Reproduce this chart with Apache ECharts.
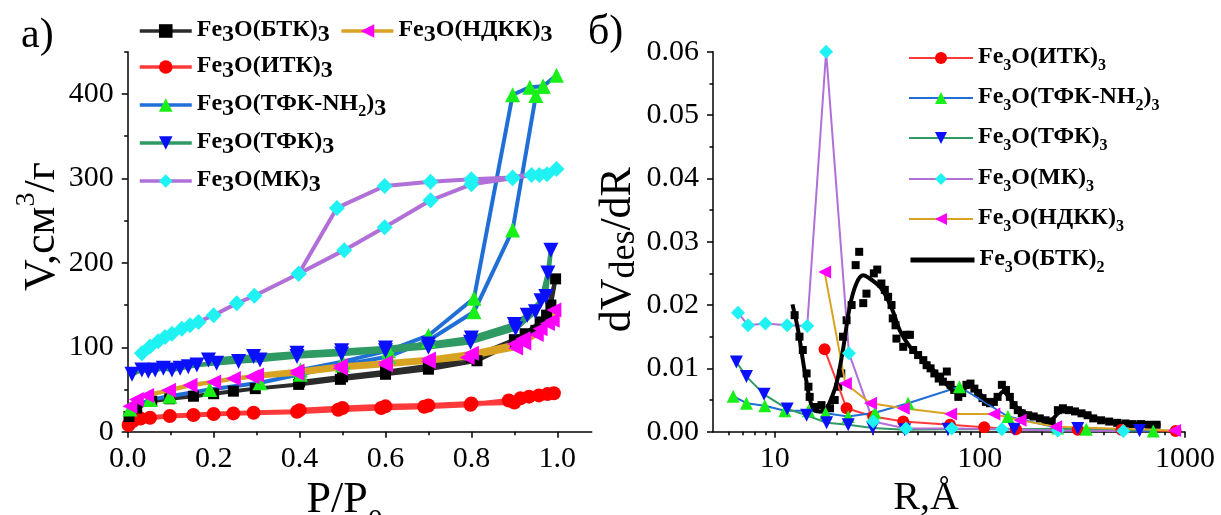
<!DOCTYPE html>
<html><head><meta charset="utf-8">
<script src="https://cdn.jsdelivr.net/npm/echarts@6/dist/echarts.min.js"></script>
<style>html,body{margin:0;padding:0;background:#fff}#c{width:1221px;height:515px}</style>
</head><body><div id="c"></div><script>
// ---------- Panel a): N2 isotherms, [P/P0, V] ----------
const btkAds = [[0.003,18],[0.021,28],[0.056,36],[0.098,39],[0.153,42],[0.2,45],[0.246,48],[0.297,51],[0.398,56],[0.495,62],[0.6,68],[0.7,74],[0.813,84],[0.903,106],[0.95,120],[0.975,138],[0.996,181]];
const btkDes = [[0.996,181],[0.985,150],[0.96,130],[0.925,116],[0.9,109],[0.8,88],[0.7,78],[0.6,71],[0.5,65],[0.4,59]];
const itkAds = [[0.002,8],[0.013,13],[0.03,15.5],[0.052,16.5],[0.098,18.6],[0.153,19.8],[0.2,21],[0.246,21.7],[0.293,22.5],[0.394,23.7],[0.49,26],[0.59,28],[0.69,29.5],[0.798,32],[0.887,37],[0.914,39.5],[0.934,41.5],[0.957,43],[0.977,44.5],[0.992,45.5]];
const itkDes = [[0.992,45.5],[0.9,34.5],[0.8,33.5],[0.7,31],[0.6,30],[0.5,28],[0.4,25.5]];
const nh2Ads = [[0.005,27],[0.052,38],[0.098,42],[0.191,50],[0.308,58],[0.402,68],[0.5,79],[0.607,89],[0.7,108],[0.806,142],[0.896,239],[0.95,398],[0.967,409],[0.998,422]];
const nh2Des = [[0.998,422],[0.967,409],[0.936,408],[0.896,399],[0.806,158],[0.7,114],[0.607,96],[0.5,83],[0.402,73]];
const tfkAds = [[0.01,68],[0.033,73],[0.048,71.7],[0.064,73],[0.083,75],[0.103,73],[0.122,75],[0.141,77],[0.161,79],[0.207,81],[0.258,83],[0.308,85],[0.394,89],[0.498,92],[0.6,96],[0.7,100],[0.798,106],[0.903,122],[0.949,142],[0.973,160],[0.985,215]];
const tfkDes = [[0.985,215],[0.978,188],[0.962,155],[0.93,138],[0.9,127],[0.8,111],[0.7,104],[0.6,99],[0.498,96],[0.394,93],[0.293,89],[0.188,85]];
const ndkkAds = [[0.005,30],[0.02,38],[0.044,43],[0.095,49],[0.145,55],[0.2,59],[0.246,63],[0.289,65],[0.394,69],[0.495,75],[0.6,79],[0.7,83],[0.79,88],[0.903,99],[0.922,105],[0.951,115],[0.977,128],[0.992,144]];
const ndkkDes = [[0.992,144],[0.988,132],[0.96,122],[0.92,110],[0.9,104],[0.8,93],[0.7,86],[0.6,82],[0.495,78],[0.394,72],[0.3,67]];
const mkAds = [[0.033,93],[0.052,101],[0.071,107],[0.087,112],[0.103,116],[0.126,122],[0.145,126],[0.165,130],[0.2,138],[0.254,152],[0.295,161],[0.398,187],[0.504,215],[0.598,242],[0.705,274],[0.8,293],[0.896,300],[0.94,304],[0.958,304],[0.976,305],[0.998,311]];
const mkDes = [[0.998,311],[0.896,301],[0.8,299],[0.705,296],[0.598,291],[0.487,265],[0.398,187]];

// ---------- Panel б): pore size distributions, [R (Å), dVdes/dR] ----------
const itkPsd = [[17.5,0.013],[22.4,0.0037],[30.2,0.0024],[42.3,0.0016],[71.5,0.0011],[105,0.0007],[150,0.0004],[300,0.0003],[490,0.0003],[900,0.0001]];
const nh2Psd = [[6.27,0.0056],[7.28,0.0045],[8.94,0.0041],[11.2,0.0033],[14.6,0.0033],[17.7,0.0029],[22.8,0.0024],[30.8,0.003],[44.7,0.0045],[79.5,0.0071],[137,0.0024],[240,0.0006],[330,0.0004],[700,0.0001]];
const tfkPsd = [[6.5,0.011],[7.28,0.0087],[8.87,0.0059],[11.5,0.0036],[14.3,0.0026],[17.9,0.0014],[22.8,0.0011],[30,0.0006],[43,0.0003],[70,0.0004],[147,0.0004],[300,0.0005],[600,0.0002]];
const mkPsd = [[6.62,0.0188],[7.41,0.0168],[9.0,0.0171],[11.5,0.0168],[14.4,0.0167],[17.8,0.06],[23.0,0.0124],[30.2,0.0016],[43.6,0.0005],[73,0.0005],[128,0.0004],[240,0.0002],[500,0.0001]];
const ndkkPsd = [[17.5,0.0252],[22.1,0.0076],[29.3,0.0045],[42.3,0.0037],[72,0.0028],[117,0.0028],[157,0.0018],[234,0.0008],[890,0.0002]];
const btkPsdPoints = [[12.5,0.0184],[13.2,0.015],[13.7,0.0129],[14.3,0.0092],[14.6,0.0071],[14.8,0.0055],[15.7,0.0039],[16.9,0.0042],[18.6,0.0037],[19.6,0.005],[20.4,0.0071],[21.1,0.0092],[21.5,0.015],[22.4,0.0176],[23.7,0.02],[24.8,0.0263],[25.8,0.0284],[27,0.0203],[28,0.0218],[30.4,0.025],[31.6,0.0256],[33.1,0.0234],[34.4,0.0224],[35.7,0.0213],[37.1,0.02],[37.6,0.0179],[38.8,0.0168],[39.2,0.0147],[42.3,0.0134],[44,0.0153],[45.6,0.0153],[47.3,0.0129],[50,0.0121],[53,0.0113],[55,0.0105],[57.5,0.01],[60,0.0092],[63,0.0084],[64,0.0087],[66,0.0079],[69,0.0095],[72,0.0074],[75,0.0066],[78.5,0.0055],[82,0.0061],[86,0.0074],[90,0.0076],[94,0.0068],[98,0.0061],[103,0.0053],[107,0.0047],[112,0.0045],[117,0.0047],[122,0.0055],[128,0.0074],[134,0.0066],[140,0.0055],[146,0.0042],[153,0.0034],[160,0.0029],[172,0.0026],[183,0.0024],[196,0.0021],[209,0.0018],[224,0.0016],[240,0.0034],[254,0.0037],[272,0.0034],[291,0.0032],[313,0.0029],[335,0.0026],[357,0.0021],[390,0.0018],[427,0.0016],[467,0.0014],[512,0.0013],[556,0.0012],[610,0.0012],[667,0.0011],[727,0.0011]];
const btkPsdFit = [[12.2,0.0201],[13,0.016],[14,0.0095],[15,0.0045],[15.8,0.0033],[16.6,0.0032],[17.9,0.0037],[19,0.0055],[20,0.0076],[21.5,0.0129],[23.2,0.0197],[25,0.0234],[27,0.0247],[29,0.0242],[32.5,0.0229],[35,0.0213],[37.8,0.0189],[40.7,0.016],[45.6,0.0134],[53,0.0113],[61.5,0.0092],[70,0.0072],[78,0.0061],[84,0.0068],[90,0.0072],[100,0.006],[112,0.0046],[122,0.0055],[130,0.0063],[140,0.0052],[153,0.0037],[183,0.0024],[219,0.0018],[250,0.0032],[300,0.0031],[372,0.0021],[489,0.0013],[600,0.0012],[760,0.001]];

// ---------- Axis ticks ----------
const aXTicks = [0, 0.2, 0.4, 0.6, 0.8, 1.0];
const aXMinor = [0.1, 0.3, 0.5, 0.7, 0.9];
const aYTicks = [0, 100, 200, 300, 400];
const aYMinor = [50, 150, 250, 350, 450];
const bXTicks = [10, 100, 1000];
const bXMinor = [6, 7, 8, 9, 20, 30, 40, 50, 60, 70, 80, 90, 200, 300, 400, 500, 600, 700, 800, 900];
const bYTicks = [0, 0.01, 0.02, 0.03, 0.04, 0.05, 0.06];
const bYMinor = [0.005, 0.015, 0.025, 0.035, 0.045, 0.055];

// ---------- Legend entries and labels ----------
const legendRowsA = [['a:БТК', 'a:НДКК'], ['a:ИТК'], ['a:ТФК-NH2'], ['a:ТФК'], ['a:МК']];
const legendRowsB = ['b:ИТК', 'b:ТФК-NH2', 'b:ТФК', 'b:МК', 'b:НДКК', 'b:БТК'];
const legendLabels = {
  'a:БТК': '{n|Fe}{d|3}{n|O(БТК)}{d|3}',
  'a:НДКК': '{n|Fe}{d|3}{n|O(НДКК)}{d|3}',
  'a:ИТК': '{n|Fe}{d|3}{n|O(ИТК)}{d|3}',
  'a:ТФК-NH2': '{n|Fe}{d|3}{n|O(ТФК-NH}{s|2}{n|)}{d|3}',
  'a:ТФК': '{n|Fe}{d|3}{n|O(ТФК)}{d|3}',
  'a:МК': '{n|Fe}{d|3}{n|O(МК)}{d|3}',
  'b:ИТК': '{n|Fe}{s|3}{n|O(ИТК)}{s|3}',
  'b:ТФК-NH2': '{n|Fe}{s|3}{n|O(ТФК-NH}{s|2}{n|)}{s|3}',
  'b:ТФК': '{n|Fe}{s|3}{n|O(ТФК)}{s|3}',
  'b:МК': '{n|Fe}{s|3}{n|O(МК)}{s|3}',
  'b:НДКК': '{n|Fe}{s|3}{n|O(НДКК)}{s|3}',
  'b:БТК': '{n|Fe}{s|3}{n|O(БТК)}{s|2}'
};

const FONT = 'Liberation Serif';
const BLACK = '#000';
const COL = {
  btk: ['#2b2b2b', '#000000'],
  itk: ['#ff3a3a', '#ff0000'],
  nh2: ['#1f6fd6', '#19f019'],
  tfk: ['#2f9a64', '#0a10ff'],
  mk:  ['#b070d8', '#1ff2f2'],
  ndkk:['#d8a322', '#ff00ff']
};

function mainAxis(type, gi, min, max, ticks, fmt, extra) {
  return Object.assign({
    type: type, gridIndex: gi, min: min, max: max,
    axisLine: {show: true, onZero: false, lineStyle: {color: BLACK, width: 1.5}},
    axisTick: {show: true, length: 6, lineStyle: {color: BLACK, width: 1.5}, customValues: ticks},
    axisLabel: {customValues: ticks, formatter: fmt, fontFamily: FONT, fontSize: 30, color: BLACK, margin: 12},
    splitLine: {show: false}, minorTick: {show: false}, minorSplitLine: {show: false}
  }, extra);
}
function minorAxis(type, gi, min, max, ticks, position) {
  return {
    type: type, gridIndex: gi, min: min, max: max, position: position, offset: 0,
    axisLine: {show: false},
    axisTick: {show: true, length: 3.5, lineStyle: {color: BLACK, width: 1.5}, customValues: ticks},
    axisLabel: {show: false}, splitLine: {show: false}
  };
}

const nameRich = {
  n: {fontFamily: FONT, fontSize: 44, color: BLACK, verticalAlign: 'top', lineHeight: 46},
  p: {fontFamily: FONT, fontSize: 28, color: BLACK, verticalAlign: 'top', lineHeight: 30},
  s: {fontFamily: FONT, fontSize: 30, color: BLACK, verticalAlign: 'top', lineHeight: 32, padding: [28, 0, 0, 0]},
  ds: {fontFamily: FONT, fontSize: 36, color: BLACK, verticalAlign: 'top', lineHeight: 38, padding: [10, 0, 0, 0]},
  r: {fontFamily: FONT, fontSize: 40, color: BLACK, verticalAlign: 'top', lineHeight: 42}
};

const xAxis = [
  mainAxis('value', 0, 0, 1.08, aXTicks, v => v.toFixed(1), {
    position: 'bottom', name: '{n|P/P}{s|0}', nameLocation: 'middle', nameGap: 37,
    nameTextStyle: {rich: nameRich, padding: [0, 30, 0, 0]}
  }),
  minorAxis('value', 0, 0, 1.08, aXMinor, 'bottom'),
  mainAxis('log', 1, 5, 1000, bXTicks, v => String(Math.round(v)), {
    position: 'bottom', logBase: 10, name: '{r|R,Å}', nameLocation: 'middle', nameGap: 35,
    nameTextStyle: {rich: nameRich, padding: [0, 46, 0, 0]}
  }),
  minorAxis('log', 1, 5, 1000, bXMinor, 'bottom')
];
const yAxis = [
  mainAxis('value', 0, 0, 450, aYTicks, v => String(v), {
    position: 'left', name: '{n|V,см}{p|3}{n|/г}', nameLocation: 'middle', nameGap: 62,
    nameTextStyle: {rich: Object.assign({}, nameRich, {n: Object.assign({}, nameRich.n, {padding: [8, 0, 0, 0]})}), padding: [0, 0, 0, 30]}
  }),
  minorAxis('value', 0, 0, 450, aYMinor, 'left'),
  mainAxis('value', 1, 0, 0.06, bYTicks, v => v.toFixed(2), {
    position: 'left', name: '{n|dV}{ds|des}{n|/dR}', nameLocation: 'middle', nameGap: 64,
    nameTextStyle: {rich: nameRich, padding: [0, 16, 0, 0]}
  }),
  minorAxis('value', 1, 0, 0.06, bYMinor, 'left')
];
yAxis[0].axisLabel.margin = 14;
yAxis[2].axisLabel.margin = 14;

function iso(name, ads, des, c, symbol, size, rotate, width) {
  return {
    name: name, type: 'line', xAxisIndex: 0, yAxisIndex: 0,
    data: ads.concat(des.slice(1)),
    symbol: symbol, symbolSize: size, symbolRotate: rotate || 0,
    lineStyle: {color: c[0], width: width || 4}, itemStyle: {color: c[1], opacity: 1},
    emphasis: {disabled: true}
  };
}
function psd(name, data, c, symbol, size, rotate) {
  return {
    name: name, type: 'line', xAxisIndex: 2, yAxisIndex: 2, data: data,
    symbol: symbol, symbolSize: size, symbolRotate: rotate || 0,
    lineStyle: {color: c[0], width: 2}, itemStyle: {color: c[1], opacity: 1},
    emphasis: {disabled: true}
  };
}

const series = [
  iso('a:ИТК', itkAds, itkDes, COL.itk, 'circle', 14, 0, 5),
  iso('a:БТК', btkAds, btkDes, COL.btk, 'rect', 11),
  iso('a:ТФК-NH2', nh2Ads, nh2Des, COL.nh2, 'triangle', 15),
  iso('a:ТФК', tfkAds, tfkDes, COL.tfk, 'triangle', 15, 180, 4.5),
  iso('a:НДКК', ndkkAds, ndkkDes, COL.ndkk, 'triangle', 15, 90, 4.5),
  iso('a:МК', mkAds, mkDes, COL.mk, 'diamond', 16),
  psd('b:ИТК', itkPsd, COL.itk, 'circle', 12),
  psd('b:ТФК-NH2', nh2Psd, COL.nh2, 'triangle', 13),
  psd('b:ТФК', tfkPsd, COL.tfk, 'triangle', 13, 180),
  psd('b:МК', mkPsd, COL.mk, 'diamond', 14),
  psd('b:НДКК', ndkkPsd, COL.ndkk, 'triangle', 13, 90),
  {name: 'b:БТК точки', type: 'scatter', xAxisIndex: 2, yAxisIndex: 2, data: btkPsdPoints,
   symbol: 'rect', symbolSize: 8, itemStyle: {color: BLACK, opacity: 1}, emphasis: {disabled: true}},
  {name: 'b:БТК', type: 'line', xAxisIndex: 2, yAxisIndex: 2, data: btkPsdFit, smooth: 0.35,
   symbol: 'none', lineStyle: {color: BLACK, width: 4}, itemStyle: {color: BLACK}, emphasis: {disabled: true}}
];

const legRichA = {
  n: {fontFamily: FONT, fontSize: 24, fontWeight: 'bold', color: BLACK, verticalAlign: 'top', lineHeight: 26},
  d: {fontFamily: FONT, fontSize: 24, fontWeight: 'bold', color: BLACK, verticalAlign: 'top', lineHeight: 26, padding: [5, 0, 0, 0]},
  s: {fontFamily: FONT, fontSize: 16, fontWeight: 'bold', color: BLACK, verticalAlign: 'top', lineHeight: 18, padding: [12, 0, 0, 0]}
};
const legRichB = {
  n: {fontFamily: FONT, fontSize: 24, fontWeight: 'bold', color: BLACK, verticalAlign: 'top', lineHeight: 26},
  s: {fontFamily: FONT, fontSize: 16, fontWeight: 'bold', color: BLACK, verticalAlign: 'top', lineHeight: 18, padding: [13, 0, 0, 0]}
};
const fmt = n => legendLabels[n] || n;

// row layout (pixel positions of legend rows)
const rowTopA = [18, 54, 92, 130, 168];
const rowTopB = [45, 85, 125, 166, 206, 247];
const legends = [];
legendRowsA.forEach((names, i) => legends.push({
  data: names, orient: 'horizontal', left: 138, top: rowTopA[i], padding: 0, selectedMode: false,
  itemWidth: 52, itemHeight: 17, itemGap: 10, formatter: fmt, textStyle: {rich: legRichA},
  lineStyle: {width: 3.5}
}));
legendRowsB.forEach((name, i) => legends.push({
  data: [name === 'b:БТК' ? {name: name, itemStyle: {color: 'rgba(0,0,0,0)', borderWidth: 0}, lineStyle: {width: 5}} : name],
  orient: 'horizontal', left: 908, top: rowTopB[i], padding: 0, selectedMode: false,
  itemWidth: 64, itemHeight: 15, formatter: fmt, textStyle: {rich: legRichB}
}));

const option = {
  animation: false,
  backgroundColor: '#fff',
  title: [
    {text: 'a)', left: 21, top: 15, padding: 0, textStyle: {fontFamily: FONT, fontSize: 42, fontWeight: 'normal', color: BLACK}},
    {text: 'б)', left: 588, top: 12, padding: 0, textStyle: {fontFamily: FONT, fontSize: 42, fontWeight: 'normal', color: BLACK}}
  ],
  grid: [
    {left: 127.7, top: 51.7, width: 464, height: 380, containLabel: false, outerBoundsMode: 'none'},
    {left: 713, top: 51.7, width: 472, height: 380, containLabel: false, outerBoundsMode: 'none'}
  ],
  xAxis: xAxis,
  yAxis: yAxis,
  legend: legends,
  series: series
};
const chart = echarts.init(document.getElementById('c'), null, {renderer: 'canvas', width: 1221, height: 515});
chart.setOption(option);
</script></body></html>
